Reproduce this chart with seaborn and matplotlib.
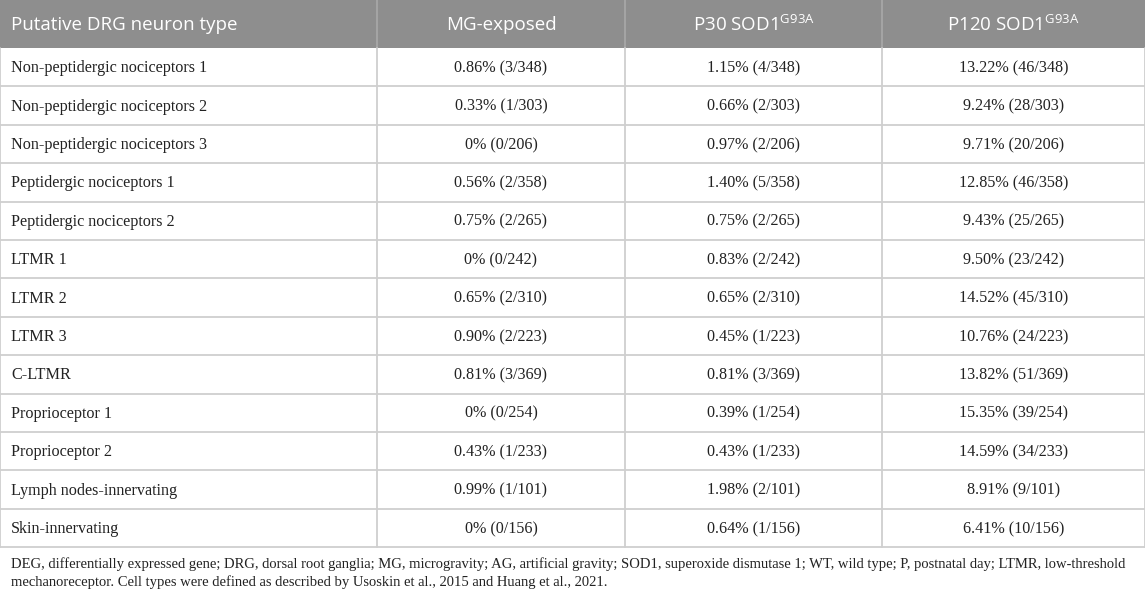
import numpy as np
import pandas as pd
import matplotlib
matplotlib.use("Agg")
import matplotlib.pyplot as plt
import seaborn as sns

cell_types = [
    "Non-peptidergic nociceptors 1",
    "Non-peptidergic nociceptors 2",
    "Non-peptidergic nociceptors 3",
    "Peptidergic nociceptors 1",
    "Peptidergic nociceptors 2",
    "LTMR 1",
    "LTMR 2",
    "LTMR 3",
    "C-LTMR",
    "Proprioceptor 1",
    "Proprioceptor 2",
    "Lymph nodes-innervating",
    "Skin-innervating",
]
totals = [348, 303, 206, 358, 265, 242, 310, 223, 369, 254, 233, 101, 156]

mg_pct = [0.86, 0.33, 0, 0.56, 0.75, 0, 0.65, 0.90, 0.81, 0, 0.43, 0.99, 0]
mg_n = [3, 1, 0, 2, 2, 0, 2, 2, 3, 0, 1, 1, 0]

p30_pct = [1.15, 0.66, 0.97, 1.40, 0.75, 0.83, 0.65, 0.45, 0.81, 0.39, 0.43, 1.98, 0.64]
p30_n = [4, 2, 2, 5, 2, 2, 2, 1, 3, 1, 1, 2, 1]

p120_pct = [13.22, 9.24, 9.71, 12.85, 9.43, 9.50, 14.52, 10.76, 13.82, 15.35, 14.59, 8.91, 6.41]
p120_n = [46, 28, 20, 46, 25, 23, 45, 24, 51, 39, 34, 9, 10]

headers = [
    "Putative DRG neuron type",
    "MG-exposed",
    r"P30 SOD1$^{\mathregular{G93A}}$",
    r"P120 SOD1$^{\mathregular{G93A}}$",
]

footnote = [
    "DEG, differentially expressed gene; DRG, dorsal root ganglia; MG, microgravity; AG, artificial gravity; "
    "SOD1, superoxide dismutase 1; WT, wild type; P, postnatal day; LTMR, low-threshold",
    "mechanoreceptor. Cell types were defined as described by Usoskin et al., 2015 and Huang et al., 2021.",
]


def fmt(p, n, t):
    if p == 0:
        return f"0% ({n}/{t})"
    return f"{p:.2f}% ({n}/{t})"


df = pd.DataFrame(
    {
        headers[0]: cell_types,
        headers[1]: [fmt(p, n, t) for p, n, t in zip(mg_pct, mg_n, totals)],
        headers[2]: [fmt(p, n, t) for p, n, t in zip(p30_pct, p30_n, totals)],
        headers[3]: [fmt(p, n, t) for p, n, t in zip(p120_pct, p120_n, totals)],
    }
)

# Styling
sns.set_theme(style="white")
plt.rcParams["mathtext.fontset"] = "custom"
plt.rcParams["mathtext.rm"] = "Open Sans"

W, H = 1145, 594
fig = plt.figure(figsize=(W / 100, H / 100), dpi=100)
ax = fig.add_axes([0, 0, 1, 1])
ax.set_xlim(0, W)
ax.set_ylim(H, 0)
ax.axis("off")

# Layout in pixels
col_edges = [0, 377, 625, 882, 1145]
head_h = 48
row_h = 38.4
table_bottom = head_h + row_h * len(df)
grid_color = "#cfcfcf"
head_color = "#8e8e8e"
text_color = "#222222"

# Header band
ax.add_patch(plt.Rectangle((0, 0), W, head_h, color=head_color, lw=0))
for x in col_edges[1:-1]:
    ax.plot([x, x], [0, head_h], color="#a9a9a9", lw=1.2)

for j, h in enumerate(headers):
    if j == 0:
        ax.text(11, head_h / 2 + 1, h, color="white", fontsize=13.5,
                family="Open Sans", ha="left", va="center")
    else:
        cx = (col_edges[j] + col_edges[j + 1]) / 2
        ax.text(cx, head_h / 2 + 1, h, color="white", fontsize=13.5,
                family="Open Sans", ha="center", va="center")

# Body rows
for i, row in enumerate(df.itertuples(index=False)):
    cy = head_h + row_h * (i + 0.5)
    for j, val in enumerate(row):
        if j == 0:
            ax.text(11, cy + 1, val, fontsize=11.6, family="Liberation Serif",
                    color=text_color, ha="left", va="center")
        else:
            cx = (col_edges[j] + col_edges[j + 1]) / 2
            ax.text(cx, cy + 1, val, fontsize=11.6, family="Liberation Serif",
                    color=text_color, ha="center", va="center")

# Grid lines
for i in range(1, len(df) + 1):
    y = head_h + row_h * i
    ax.plot([0, W], [y, y], color=grid_color, lw=1.3)
for x in col_edges:
    ax.plot([x, x], [head_h, table_bottom], color=grid_color, lw=1.3)

# Footnote
ax.text(11, 568, footnote[0], fontsize=10.55, family="Liberation Serif",
        color=text_color, ha="left", va="baseline")
ax.text(11, 586, footnote[1], fontsize=10.55, family="Liberation Serif",
        color=text_color, ha="left", va="baseline")

fig.savefig("out.png", dpi=100)
